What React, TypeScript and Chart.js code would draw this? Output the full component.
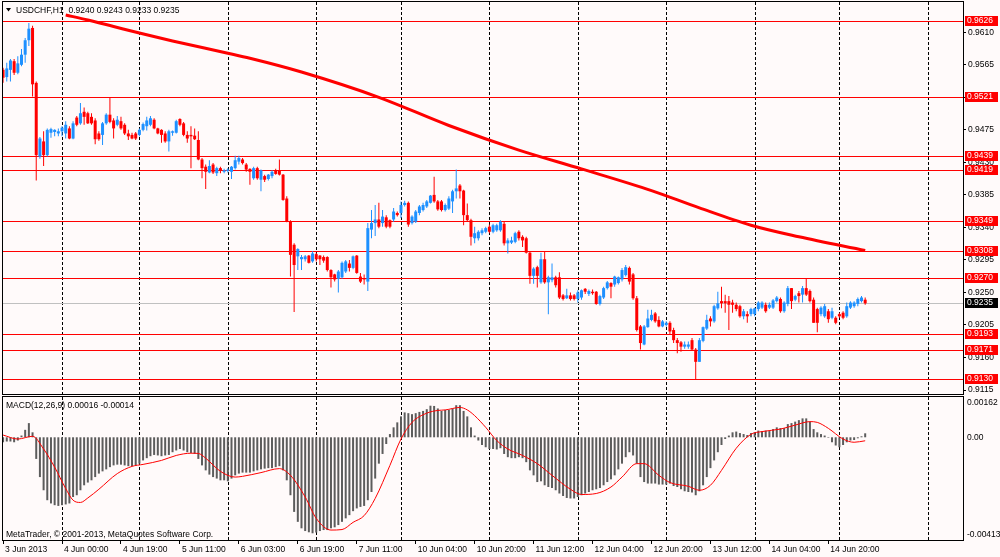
import React, { useEffect, useRef } from 'react'
import { Chart, registerables } from 'chart.js'

Chart.register(...registerables)

const symbolTitle = 'USDCHF,H1  0.9240 0.9243 0.9233 0.9235'
const macdTitle = 'MACD(12,26,9) 0.00016 -0.00014'
const copyright = 'MetaTrader, © 2001-2013, MetaQuotes Software Corp.'

// hourly candles, one entry per bar
const opens = [
	0.9558, 0.9548, 0.9558, 0.957, 0.9554, 0.9565, 0.9579, 0.9599, 0.9616, 0.954,
	0.9438, 0.9459, 0.944, 0.9471, 0.9472, 0.947, 0.9473, 0.947, 0.9477, 0.9463,
	0.9492, 0.9484, 0.95, 0.9498, 0.9493, 0.9488, 0.947, 0.9468, 0.9484, 0.9496,
	0.9488, 0.9482, 0.9487, 0.9482, 0.947, 0.9468, 0.947, 0.9468, 0.9475, 0.948,
	0.9482, 0.9489, 0.9477, 0.9475, 0.947, 0.9459, 0.9471, 0.9471, 0.949, 0.9484,
	0.9468, 0.9468, 0.9467, 0.9461, 0.9434, 0.9424, 0.9416, 0.9427, 0.9415, 0.9422,
	0.9417, 0.9418, 0.9417, 0.9422, 0.9431, 0.9434, 0.9427, 0.9421, 0.9408, 0.9422,
	0.9406, 0.9411, 0.9407, 0.9411, 0.9419, 0.9419, 0.9413, 0.938, 0.9348, 0.9316,
	0.93, 0.9296, 0.9296, 0.9301, 0.9293, 0.9303, 0.9301, 0.9299, 0.9299, 0.9281,
	0.9275, 0.9269, 0.9271, 0.9279, 0.929, 0.9284, 0.9301, 0.9272, 0.927, 0.9265,
	0.9337, 0.9346, 0.9351, 0.9346, 0.9354, 0.935, 0.9351, 0.936, 0.936, 0.9371,
	0.9374, 0.9346, 0.9348, 0.936, 0.9364, 0.9369, 0.9374, 0.9385, 0.9376, 0.9376,
	0.9364, 0.9366, 0.9376, 0.939, 0.9398, 0.9391, 0.9357, 0.935, 0.9325, 0.9325,
	0.9332, 0.9334, 0.9341, 0.9334, 0.9336, 0.9336, 0.9345, 0.9318, 0.9319, 0.932,
	0.9334, 0.9327, 0.9325, 0.9305, 0.9273, 0.9285, 0.9264, 0.9296, 0.9264, 0.9267,
	0.9271, 0.9271, 0.9246, 0.9242, 0.9246, 0.9246, 0.9241, 0.9243, 0.9255, 0.9248,
	0.9251, 0.9251, 0.9234, 0.9243, 0.9256, 0.9263, 0.9261, 0.9263, 0.9268, 0.9274,
	0.9284, 0.9275, 0.9242, 0.9203, 0.9178, 0.9202, 0.9212, 0.9221, 0.9212, 0.9203,
	0.9205, 0.9208, 0.9198, 0.9184, 0.9181, 0.9175, 0.9175, 0.9184, 0.9171, 0.9154,
	0.9183, 0.92, 0.9214, 0.921, 0.9228, 0.9238, 0.9238, 0.9238, 0.9236, 0.9233,
	0.9231, 0.9217, 0.922, 0.922, 0.922, 0.9227, 0.9229, 0.9233, 0.9229, 0.9229,
	0.9238, 0.9241, 0.9224, 0.9234, 0.9256, 0.924, 0.9249, 0.9247, 0.9256, 0.9252,
	0.924, 0.9227, 0.922, 0.9217, 0.9224, 0.9215, 0.9215, 0.922, 0.9222, 0.9217,
	0.9229, 0.9231, 0.9234, 0.9238, 0.924,
]
const highs = [
	0.9561, 0.9568, 0.9573, 0.9573, 0.9577, 0.9587, 0.9602, 0.9623, 0.9619, 0.9542,
	0.9465, 0.9473, 0.9477, 0.9478, 0.9476, 0.9477, 0.948, 0.9487, 0.948, 0.9487,
	0.9494, 0.9512, 0.9506, 0.95, 0.9498, 0.9491, 0.9473, 0.9486, 0.9498, 0.952,
	0.9491, 0.9494, 0.9493, 0.9484, 0.9475, 0.9471, 0.9472, 0.9477, 0.9485, 0.9493,
	0.9494, 0.9491, 0.9478, 0.9476, 0.9473, 0.9475, 0.9474, 0.9489, 0.9491, 0.9486,
	0.9473, 0.948, 0.9477, 0.9473, 0.9436, 0.9427, 0.9433, 0.9429, 0.9424, 0.9424,
	0.9421, 0.9422, 0.9425, 0.9439, 0.9439, 0.9436, 0.9429, 0.9422, 0.9424, 0.9424,
	0.942, 0.9413, 0.9414, 0.9419, 0.9421, 0.9434, 0.9414, 0.9383, 0.935, 0.9318,
	0.9311, 0.9302, 0.9302, 0.9302, 0.9307, 0.9305, 0.9302, 0.9301, 0.93, 0.9282,
	0.9276, 0.9281, 0.9293, 0.9295, 0.9295, 0.9301, 0.9302, 0.9277, 0.9275, 0.9346,
	0.9364, 0.9371, 0.9374, 0.9364, 0.9357, 0.9351, 0.9367, 0.9362, 0.9376, 0.9377,
	0.9376, 0.9357, 0.9364, 0.9371, 0.9374, 0.9378, 0.9385, 0.941, 0.9378, 0.9378,
	0.9373, 0.9383, 0.9392, 0.942, 0.94, 0.9392, 0.9373, 0.9352, 0.9341, 0.9336,
	0.9339, 0.9341, 0.9344, 0.9345, 0.9345, 0.935, 0.9348, 0.9325, 0.9327, 0.9334,
	0.9336, 0.9329, 0.9327, 0.9307, 0.9285, 0.9287, 0.9305, 0.9306, 0.9273, 0.929,
	0.9273, 0.9278, 0.9248, 0.9255, 0.925, 0.9248, 0.9253, 0.9254, 0.9256, 0.9254,
	0.9254, 0.9252, 0.9247, 0.9258, 0.9266, 0.9264, 0.9273, 0.9272, 0.9284, 0.9288,
	0.9286, 0.9277, 0.9245, 0.9205, 0.9205, 0.9226, 0.9226, 0.9223, 0.9217, 0.9212,
	0.921, 0.921, 0.9201, 0.9187, 0.9183, 0.9182, 0.9182, 0.9187, 0.9173, 0.9187,
	0.9203, 0.9219, 0.9217, 0.9233, 0.9251, 0.9258, 0.9247, 0.9245, 0.924, 0.9236,
	0.9233, 0.9227, 0.9224, 0.9229, 0.9229, 0.9238, 0.9238, 0.9236, 0.9236, 0.9241,
	0.9245, 0.9243, 0.9238, 0.9259, 0.9256, 0.9247, 0.9252, 0.9259, 0.927, 0.9254,
	0.9243, 0.9229, 0.9231, 0.9234, 0.9227, 0.9229, 0.9217, 0.9222, 0.9224, 0.9236,
	0.9238, 0.9238, 0.9243, 0.9245, 0.9243,
]
const lows = [
	0.954, 0.9542, 0.9542, 0.9551, 0.9552, 0.9563, 0.9568, 0.9591, 0.9521, 0.9405,
	0.9435, 0.9425, 0.9438, 0.9464, 0.9466, 0.9466, 0.9466, 0.9463, 0.9462, 0.9462,
	0.948, 0.9482, 0.9482, 0.9483, 0.9482, 0.9455, 0.946, 0.9454, 0.9482, 0.9484,
	0.9463, 0.948, 0.9475, 0.9468, 0.9461, 0.9462, 0.9461, 0.9466, 0.9473, 0.9474,
	0.948, 0.9476, 0.9469, 0.9457, 0.9457, 0.9445, 0.9467, 0.947, 0.948, 0.9466,
	0.9457, 0.9422, 0.9461, 0.9433, 0.9408, 0.9393, 0.9415, 0.9414, 0.9411, 0.9415,
	0.9415, 0.9416, 0.9407, 0.942, 0.9427, 0.9427, 0.9417, 0.9399, 0.9406, 0.9406,
	0.939, 0.9403, 0.9405, 0.9408, 0.9413, 0.9412, 0.9377, 0.9347, 0.9272, 0.9223,
	0.9281, 0.9281, 0.9293, 0.929, 0.9291, 0.9293, 0.9288, 0.9291, 0.9279, 0.9257,
	0.9265, 0.925, 0.9269, 0.9277, 0.9279, 0.9282, 0.9276, 0.9263, 0.9261, 0.9252,
	0.9325, 0.9328, 0.9339, 0.9341, 0.9339, 0.9339, 0.9348, 0.9355, 0.9353, 0.9369,
	0.9341, 0.9344, 0.9346, 0.9357, 0.9362, 0.9367, 0.9373, 0.9374, 0.9363, 0.9362,
	0.9362, 0.9364, 0.936, 0.938, 0.938, 0.9343, 0.9348, 0.9315, 0.9318, 0.9322,
	0.9329, 0.9332, 0.9332, 0.9332, 0.9334, 0.9334, 0.9315, 0.9304, 0.9317, 0.9318,
	0.9322, 0.9313, 0.9304, 0.9262, 0.9262, 0.9257, 0.9262, 0.9262, 0.922, 0.9264,
	0.9257, 0.9241, 0.9239, 0.9241, 0.9239, 0.9239, 0.9236, 0.924, 0.9248, 0.9245,
	0.9247, 0.9233, 0.9232, 0.9241, 0.9254, 0.9242, 0.9258, 0.9261, 0.9265, 0.9272,
	0.9261, 0.924, 0.9196, 0.9171, 0.9177, 0.9201, 0.921, 0.9208, 0.9202, 0.9202,
	0.9203, 0.9191, 0.918, 0.9166, 0.9168, 0.9172, 0.9172, 0.917, 0.9129, 0.9154,
	0.9181, 0.9198, 0.9203, 0.9208, 0.9226, 0.9228, 0.9222, 0.9198, 0.9222, 0.9224,
	0.9215, 0.9213, 0.9208, 0.9217, 0.9217, 0.9224, 0.9227, 0.9222, 0.9227, 0.9227,
	0.9236, 0.9222, 0.9222, 0.9231, 0.9227, 0.9238, 0.9236, 0.9236, 0.9245, 0.9236,
	0.9208, 0.9195, 0.9217, 0.9215, 0.9208, 0.9213, 0.9206, 0.9215, 0.9213, 0.9215,
	0.9227, 0.9229, 0.9231, 0.9236, 0.9233,
]
const closes = [
	0.9547, 0.956, 0.9571, 0.9554, 0.9567, 0.9579, 0.9599, 0.9615, 0.9538, 0.944,
	0.9463, 0.944, 0.9475, 0.9476, 0.9475, 0.9473, 0.9478, 0.9482, 0.9463, 0.9484,
	0.9482, 0.9498, 0.9493, 0.9484, 0.9484, 0.9462, 0.9462, 0.9484, 0.9496, 0.9486,
	0.9477, 0.9489, 0.9477, 0.947, 0.9466, 0.9463, 0.9463, 0.9475, 0.9483, 0.9488,
	0.9491, 0.9477, 0.947, 0.9468, 0.9459, 0.9473, 0.9473, 0.9487, 0.9482, 0.9468,
	0.9463, 0.9466, 0.9462, 0.9434, 0.9422, 0.9417, 0.9425, 0.9416, 0.9422, 0.9419,
	0.9419, 0.942, 0.9424, 0.9433, 0.9436, 0.9429, 0.942, 0.9417, 0.9422, 0.9408,
	0.9419, 0.9406, 0.9413, 0.9417, 0.9414, 0.9413, 0.9378, 0.9348, 0.9302, 0.9288,
	0.931, 0.9299, 0.93, 0.9291, 0.9304, 0.9296, 0.9296, 0.9294, 0.9281, 0.9271,
	0.9268, 0.9279, 0.9291, 0.9293, 0.9284, 0.93, 0.9277, 0.9265, 0.9268, 0.9339,
	0.9346, 0.9351, 0.9341, 0.9355, 0.9341, 0.9341, 0.9362, 0.9357, 0.9371, 0.9374,
	0.9344, 0.9355, 0.9362, 0.9369, 0.9371, 0.9376, 0.9384, 0.9376, 0.9365, 0.9364,
	0.9371, 0.938, 0.939, 0.9394, 0.939, 0.9357, 0.935, 0.9327, 0.9332, 0.9334,
	0.9336, 0.9339, 0.9334, 0.9343, 0.9343, 0.9348, 0.9318, 0.9322, 0.9322, 0.9332,
	0.9325, 0.9322, 0.9305, 0.9273, 0.9283, 0.9273, 0.9296, 0.9264, 0.9271, 0.9271,
	0.926, 0.9243, 0.9241, 0.9246, 0.9241, 0.9241, 0.925, 0.9253, 0.9251, 0.9252,
	0.9249, 0.9234, 0.9245, 0.9256, 0.9264, 0.9258, 0.9272, 0.9271, 0.9281, 0.9285,
	0.9265, 0.9242, 0.9198, 0.918, 0.9203, 0.9214, 0.9219, 0.921, 0.9203, 0.921,
	0.9208, 0.9196, 0.9184, 0.918, 0.9175, 0.9178, 0.9178, 0.9171, 0.9154, 0.9184,
	0.9202, 0.9212, 0.921, 0.9231, 0.9235, 0.9235, 0.9235, 0.9233, 0.9233, 0.9227,
	0.9217, 0.9224, 0.9217, 0.9227, 0.9228, 0.9236, 0.9236, 0.9224, 0.9233, 0.9239,
	0.9243, 0.9224, 0.9236, 0.9256, 0.9238, 0.9245, 0.9245, 0.9256, 0.9247, 0.9238,
	0.9208, 0.9208, 0.9229, 0.9231, 0.9213, 0.9224, 0.9208, 0.9217, 0.9215, 0.9231,
	0.9236, 0.9236, 0.9241, 0.9243, 0.9235,
]

// moving average, read at a few bars
const maIdx = [17, 23, 30, 37, 46, 61, 67, 81, 102, 121, 140, 157, 176, 189, 203, 216, 234]
const maValues = [
	0.9634, 0.9627, 0.9618, 0.9609, 0.9598, 0.9581, 0.9574, 0.9555, 0.952, 0.9481,
	0.9447, 0.9421, 0.9391, 0.9367, 0.9343, 0.9327, 0.9308,
]

const levelPrices = [0.9626, 0.9521, 0.9439, 0.9419, 0.9349, 0.9308, 0.927, 0.9193, 0.9171, 0.913]
const bidPrice = 0.9235
const priceTicks = [0.961, 0.9565, 0.952, 0.9475, 0.943, 0.9385, 0.934, 0.9295, 0.925, 0.9205, 0.916, 0.9115]

const timeTickIdx = [0, 16, 32, 48, 64, 80, 96, 112, 128, 144, 160, 176, 192, 208, 224]
const timeTickLabels = [
	'3 Jun 2013', '4 Jun 00:00', '4 Jun 19:00', '5 Jun 11:00', '6 Jun 03:00',
	'6 Jun 19:00', '7 Jun 11:00', '10 Jun 04:00', '10 Jun 20:00', '11 Jun 12:00',
	'12 Jun 04:00', '12 Jun 20:00', '13 Jun 12:00', '14 Jun 04:00', '14 Jun 20:00',
]
const gridIdx = [16, 37, 61, 85, 108, 132, 156, 180, 204, 227, 251]

const macdHist = [
	-0.0002, -0.00017, -0.00017, -0.0002, -0.00013, 0.00007, 0.0003, 0.00057, 0.0002, -0.00087,
	-0.0016, -0.00213, -0.00253, -0.00266, -0.00273, -0.00276, -0.00273, -0.0027, -0.00266, -0.0024,
	-0.00233, -0.00213, -0.00193, -0.00182, -0.00173, -0.0016, -0.00146, -0.00137, -0.00129, -0.0012,
	-0.00113, -0.0011, -0.0011, -0.00113, -0.00116, -0.00116, -0.00113, -0.00106, -0.00093, -0.00084,
	-0.00076, -0.00071, -0.00073, -0.00076, -0.00073, -0.00071, -0.0006, -0.00053, -0.00047, -0.00053,
	-0.0006, -0.00063, -0.00067, -0.00087, -0.00113, -0.00133, -0.0015, -0.0016, -0.00166, -0.00173,
	-0.00173, -0.00177, -0.00166, -0.00153, -0.00146, -0.00142, -0.00142, -0.00142, -0.00137, -0.00133,
	-0.00129, -0.00126, -0.00124, -0.00124, -0.0012, -0.00116, -0.00133, -0.00173, -0.00233, -0.003,
	-0.0034, -0.00366, -0.00377, -0.00382, -0.00386, -0.00383, -0.00377, -0.00373, -0.00373, -0.00366,
	-0.00362, -0.00353, -0.0034, -0.00326, -0.00313, -0.00297, -0.00286, -0.0028, -0.00276, -0.00253,
	-0.0022, -0.00166, -0.00106, -0.00067, -0.00027, 0.00013, 0.0004, 0.0006, 0.00084, 0.001,
	0.00097, 0.00093, 0.00097, 0.00102, 0.00106, 0.00113, 0.00127, 0.00126, 0.00116, 0.00106,
	0.0011, 0.0011, 0.00116, 0.00129, 0.00129, 0.00106, 0.00084, 0.0004, 0.00007, -0.00013,
	-0.00031, -0.0004, -0.00047, -0.00047, -0.00049, -0.00044, -0.00067, -0.0008, -0.00084, -0.00084,
	-0.0008, -0.00084, -0.001, -0.00133, -0.00153, -0.0018, -0.00177, -0.00193, -0.002, -0.00204,
	-0.00213, -0.00226, -0.00236, -0.00244, -0.00246, -0.00246, -0.0024, -0.00233, -0.00226, -0.0022,
	-0.00213, -0.00209, -0.00204, -0.00193, -0.0018, -0.00169, -0.00153, -0.00129, -0.00106, -0.0008,
	-0.0006, -0.00073, -0.00106, -0.0016, -0.0018, -0.00186, -0.00186, -0.00186, -0.0019, -0.0019,
	-0.0019, -0.00186, -0.00196, -0.002, -0.00209, -0.00217, -0.0022, -0.00222, -0.00233, -0.00217,
	-0.00193, -0.0016, -0.00124, -0.00093, -0.0006, -0.00031, -0.00007, 0.00007, 0.0002, 0.00023,
	0.00017, 0.00013, 0.00009, 0.00017, 0.0002, 0.00027, 0.00024, 0.00027, 0.00025, 0.00033,
	0.0004, 0.00037, 0.00037, 0.00053, 0.00057, 0.00063, 0.00069, 0.00076, 0.00076, 0.00063,
	0.00033, 0.0002, 0.00013, 0.00007, -0.00002, -0.0002, -0.00033, -0.0004, -0.00031, -0.0002,
	-0.00013, -0.00011, -0.00004, 0.00004, 0.00016,
]
const signalIdx = [
	0, 4, 8, 11, 14, 17, 19, 21, 23, 26, 31, 35, 38, 43, 47, 51, 53, 55, 59, 63,
	65, 70, 75, 78, 82, 85, 89, 92, 95, 98, 101, 105, 108, 111, 115, 118, 120, 124, 126, 128,
	131, 134, 137, 141, 145, 149, 154, 157, 161, 165, 168, 172, 174, 178, 181, 186, 189, 192, 195, 199,
	203, 206, 211, 215, 219, 221, 224, 228, 231, 234,
]
const signalValues = [
	0.00009, -0.00007, 0.00004, -0.00047, -0.0012, -0.00206, -0.00253, -0.00262, -0.00244, -0.00209,
	-0.00146, -0.00117, -0.00109, -0.00093, -0.00073, -0.00064, -0.00065, -0.00084, -0.00137, -0.0016,
	-0.00157, -0.00142, -0.00126, -0.00153, -0.0024, -0.00326, -0.00373, -0.00371, -0.00342, -0.00315,
	-0.00246, -0.00113, -0.00007, 0.0006, 0.00097, 0.00108, 0.0011, 0.0012, 0.0011, 0.00087,
	0.0004, -0.00013, -0.00047, -0.00073, -0.00106, -0.00153, -0.00209, -0.0023, -0.00226, -0.002,
	-0.0016, -0.00106, -0.00106, -0.00153, -0.00182, -0.00197, -0.00213, -0.00193, -0.00133, -0.00044,
	0.00012, 0.00023, 0.00033, 0.00049, 0.00063, 0.0006, 0.00036, -0.00007, -0.0002, -0.00014,
]
const macdAxisValues = [0.00162, 0, -0.00413]
const macdAxisLabels = ['0.00162', '0.00', '-0.00413']

const BG = '#fffafa'
const BULL = '#1e90ff'
const BEAR = '#ff0000'
const FONT_FAMILY = 'Liberation Sans'
const FONT_SIZE = 8.5
const FONT = `${FONT_SIZE}px "${FONT_FAMILY}"`

const X_MIN = -0.02
const X_MAX = 260.55
const P_MIN = 0.91095
const P_MAX = 0.96519
const M_MIN = -0.00413
const M_MAX = 0.00162

const crisp = (v: number) => Math.round(v) + 0.5

// labels near the edges must not shrink the plot area
const noEdgePadding = (scale: any) => {
	scale.paddingTop = 0
	scale.paddingBottom = 0
	scale.paddingLeft = 0
	scale.paddingRight = 0
}

const drawDashedGrid = (chart: any) => {
	const { ctx, chartArea: a, scales } = chart
	ctx.save()
	ctx.strokeStyle = '#000'
	ctx.lineWidth = 1
	ctx.setLineDash([3, 2])
	gridIdx.forEach((i) => {
		const x = crisp(scales.x.getPixelForValue(i))
		if (x > a.right) return
		ctx.beginPath()
		ctx.moveTo(x, a.top)
		ctx.lineTo(x, a.bottom)
		ctx.stroke()
	})
	ctx.restore()
}

const drawFrame = (chart: any) => {
	const { ctx, chartArea: a } = chart
	ctx.save()
	ctx.strokeStyle = '#000'
	ctx.lineWidth = 1
	ctx.strokeRect(a.left - 0.5, a.top - 0.5, a.right - a.left + 1, a.bottom - a.top + 1)
	ctx.restore()
}

const mainDecor = {
	id: 'mainDecor',
	beforeDatasetsDraw(chart: any) {
		const { ctx, chartArea: a, scales } = chart
		drawDashedGrid(chart)
		ctx.save()
		ctx.lineWidth = 1
		ctx.strokeStyle = '#c0c0c0'
		const yb = crisp(scales.y.getPixelForValue(bidPrice))
		ctx.beginPath()
		ctx.moveTo(a.left, yb)
		ctx.lineTo(a.right, yb)
		ctx.stroke()
		ctx.strokeStyle = BEAR
		levelPrices.forEach((p) => {
			const y = crisp(scales.y.getPixelForValue(p))
			ctx.beginPath()
			ctx.moveTo(a.left, y)
			ctx.lineTo(a.right, y)
			ctx.stroke()
		})
		ctx.restore()
	},
	afterDraw(chart: any) {
		const { ctx, chartArea: a, scales } = chart
		drawFrame(chart)
		ctx.save()
		ctx.fillStyle = '#000'
		ctx.beginPath()
		ctx.moveTo(6, 8)
		ctx.lineTo(11, 8)
		ctx.lineTo(8.5, 11.5)
		ctx.closePath()
		ctx.fill()
		ctx.font = FONT
		ctx.textBaseline = 'alphabetic'
		ctx.fillText(symbolTitle, 16, 13)
		const box = (p: number, color: string) => {
			const y = Math.round(scales.y.getPixelForValue(p))
			ctx.fillStyle = color
			ctx.fillRect(a.right + 2, y - 5, 33, 10)
			ctx.fillStyle = '#fff'
			ctx.textBaseline = 'middle'
			ctx.fillText(p.toFixed(4), a.right + 4, y)
		}
		levelPrices.forEach((p) => box(p, BEAR))
		box(bidPrice, '#000')
		ctx.restore()
	},
}

const macdDecor = {
	id: 'macdDecor',
	beforeDatasetsDraw(chart: any) {
		drawDashedGrid(chart)
	},
	afterDraw(chart: any) {
		const { ctx, chartArea: a, scales } = chart
		drawFrame(chart)
		ctx.save()
		ctx.fillStyle = '#000'
		ctx.font = FONT
		ctx.textBaseline = 'alphabetic'
		ctx.fillText(macdTitle, 6, a.top + 10.5)
		ctx.fillText(copyright, 6, a.bottom - 3.5)
		ctx.textBaseline = 'middle'
		macdAxisValues.forEach((v, k) => {
			let y = scales.y.getPixelForValue(v)
			if (k === 0) y += 6
			if (k === 2) y -= 5
			ctx.fillText(macdAxisLabels[k], a.right + 4, y)
		})
		ctx.restore()
	},
}

const xAxis = (display: boolean) => ({
	type: 'linear' as const,
	min: X_MIN,
	max: X_MAX,
	offset: false,
	display,
	grid: {
		display: true,
		offset: false,
		drawOnChartArea: false,
		drawTicks: true,
		tickLength: 4,
		color: '#000',
	},
	border: { display: false },
	ticks: {
		autoSkip: false,
		maxRotation: 0,
		align: 'start' as const,
		labelOffset: 2,
		padding: 1,
		color: '#000',
		font: { family: FONT_FAMILY, size: FONT_SIZE },
		callback: (v: any) => timeTickLabels[timeTickIdx.indexOf(v)] ?? '',
	},
	afterBuildTicks: (scale: any) => {
		scale.ticks = timeTickIdx.map((v) => ({ value: v }))
	},
	afterFit: (scale: any) => {
		scale.height = display ? 17 : 0
		noEdgePadding(scale)
	},
})

const App: React.FC = () => {
	const mainRef = useRef<HTMLCanvasElement>(null)
	const macdRef = useRef<HTMLCanvasElement>(null)

	useEffect(() => {
		if (!mainRef.current || !macdRef.current) return

		const candleColors = opens.map((o, i) => (closes[i] >= o ? BULL : BEAR))

		const mainChart = new Chart(mainRef.current, {
			type: 'bar',
			data: {
				datasets: [
					{
						type: 'line',
						data: maIdx.map((x, k) => ({ x, y: maValues[k] })),
						borderColor: BEAR,
						borderWidth: 3,
						pointRadius: 0,
						cubicInterpolationMode: 'monotone',
					} as any,
					{
						data: opens.map((o, i) => ({ x: i, y: [o, closes[i]] })),
						backgroundColor: candleColors,
						barThickness: 3,
						minBarLength: 1,
						grouped: false,
						inflateAmount: 0,
					},
					{
						data: opens.map((_, i) => ({ x: i, y: [lows[i], highs[i]] })),
						backgroundColor: candleColors,
						barThickness: 1,
						minBarLength: 1,
						grouped: false,
						inflateAmount: 0,
					},
				],
			},
			options: {
				animation: false,
				responsive: true,
				maintainAspectRatio: false,
				events: [],
				layout: { padding: { left: 3, right: 0, top: 2, bottom: 2 } },
				plugins: { legend: { display: false }, tooltip: { enabled: false } },
				scales: {
					x: xAxis(false),
					y: {
						type: 'linear',
						position: 'right',
						min: P_MIN,
						max: P_MAX,
						beginAtZero: false,
						grid: { drawOnChartArea: false, drawTicks: true, tickLength: 3, color: '#000' },
						border: { display: false },
						ticks: {
							color: '#000',
							padding: 2,
							font: { family: FONT_FAMILY, size: FONT_SIZE },
							callback: (v: any) => Number(v).toFixed(4),
						},
						afterBuildTicks: (scale: any) => {
							scale.ticks = priceTicks.map((v) => ({ value: v }))
						},
						afterFit: (scale: any) => {
							scale.width = 37
							noEdgePadding(scale)
						},
					},
				},
			} as any,
			plugins: [mainDecor],
		})

		const macdChart = new Chart(macdRef.current, {
			type: 'bar',
			data: {
				datasets: [
					{
						type: 'line',
						data: signalIdx.map((x, k) => ({ x, y: signalValues[k] })),
						borderColor: BEAR,
						borderWidth: 1,
						pointRadius: 0,
						cubicInterpolationMode: 'monotone',
					} as any,
					{
						data: macdHist.map((v, i) => ({ x: i, y: v })),
						backgroundColor: '#5c5c5c',
						barThickness: 2,
						grouped: false,
						inflateAmount: 0,
					},
				],
			},
			options: {
				animation: false,
				responsive: true,
				maintainAspectRatio: false,
				events: [],
				layout: { padding: { left: 3, right: 0, top: 2, bottom: 0 } },
				plugins: { legend: { display: false }, tooltip: { enabled: false } },
				scales: {
					x: xAxis(true),
					y: {
						type: 'linear',
						position: 'right',
						min: M_MIN,
						max: M_MAX,
						beginAtZero: false,
						grid: { display: false },
						border: { display: false },
						ticks: { display: false },
						afterFit: (scale: any) => {
							scale.width = 37
							noEdgePadding(scale)
						},
					},
				},
			} as any,
			plugins: [macdDecor],
		})

		return () => {
			mainChart.destroy()
			macdChart.destroy()
		}
	}, [])

	return (
		<div
			style={{
				position: 'absolute',
				left: 0,
				top: 0,
				width: 1000,
				height: 557,
				background: BG,
				overflow: 'hidden',
			}}
		>
			<div style={{ position: 'absolute', left: 0, top: 0, width: 1000, height: 396 }}>
				<canvas ref={mainRef} />
			</div>
			<div style={{ position: 'absolute', left: 0, top: 395, width: 1000, height: 162 }}>
				<canvas ref={macdRef} />
			</div>
		</div>
	)
}

export default App
